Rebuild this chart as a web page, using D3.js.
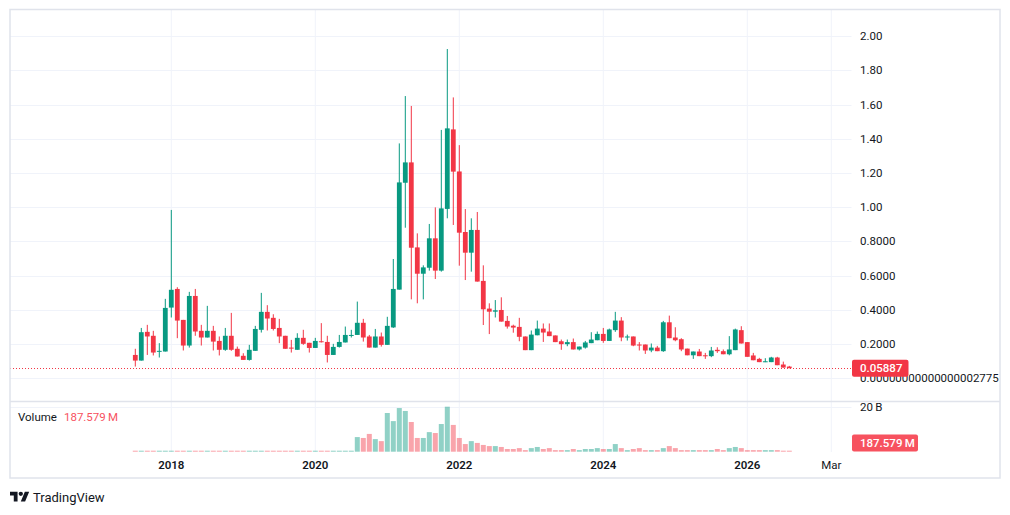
<!DOCTYPE html>
<html>
<head>
<meta charset="utf-8">
<script src="https://cdn.jsdelivr.net/npm/d3@7"></script>
<style>
        body { margin: 0; background: #ffffff; }
        text { font-family: Roboto, "Noto Sans", sans-serif; }
</style>
</head>
<body>
<svg id="chart" width="1010" height="515"></svg>
<script>
// monthly candles, first bar Jul 2017
var firstMonth = new Date(Date.UTC(2017, 6, 1));

var open = [0.136, 0.103, 0.271, 0.248, 0.156, 0.156, 0.413, 0.522, 0.341, 0.191,
        0.481, 0.277, 0.238, 0.277, 0.218, 0.166, 0.248, 0.172, 0.131, 0.107,
        0.160, 0.283, 0.388, 0.353, 0.294, 0.248, 0.179, 0.166, 0.236, 0.207,
        0.177, 0.216, 0.212, 0.136, 0.183, 0.209, 0.248, 0.253, 0.324, 0.244,
        0.179, 0.244, 0.195, 0.297, 0.518, 1.143, 1.262, 0.765, 0.611, 0.646,
        0.818, 0.629, 0.990, 1.455, 1.209, 0.855, 0.734, 0.867, 0.569, 0.407,
        0.389, 0.399, 0.335, 0.307, 0.300, 0.244, 0.164, 0.251, 0.290, 0.273,
        0.250, 0.216, 0.199, 0.211, 0.168, 0.179, 0.205, 0.222, 0.259, 0.218,
        0.281, 0.337, 0.238, 0.244, 0.197, 0.197, 0.162, 0.179, 0.158, 0.327,
        0.238, 0.228, 0.173, 0.134, 0.156, 0.134, 0.129, 0.166, 0.158, 0.140,
        0.164, 0.281, 0.211, 0.133, 0.113, 0.094, 0.094, 0.121, 0.080, 0.068];

var high = [0.172, 0.294, 0.312, 0.277, 0.205, 0.464, 0.984, 0.532, 0.341, 0.505,
        0.522, 0.312, 0.423, 0.306, 0.244, 0.294, 0.382, 0.185, 0.146, 0.195,
        0.306, 0.499, 0.427, 0.374, 0.347, 0.248, 0.224, 0.263, 0.283, 0.207,
        0.236, 0.322, 0.248, 0.201, 0.253, 0.302, 0.283, 0.448, 0.347, 0.253,
        0.288, 0.267, 0.359, 0.697, 1.373, 1.650, 1.592, 0.847, 0.660, 0.902,
        0.999, 1.452, 1.925, 1.642, 1.363, 0.989, 0.935, 0.972, 0.660, 0.438,
        0.457, 0.473, 0.364, 0.313, 0.353, 0.244, 0.279, 0.337, 0.320, 0.320,
        0.250, 0.226, 0.226, 0.232, 0.185, 0.218, 0.269, 0.273, 0.294, 0.290,
        0.388, 0.357, 0.255, 0.244, 0.211, 0.197, 0.203, 0.189, 0.335, 0.366,
        0.298, 0.234, 0.173, 0.156, 0.171, 0.148, 0.183, 0.181, 0.168, 0.246,
        0.290, 0.304, 0.211, 0.148, 0.119, 0.117, 0.125, 0.125, 0.097, 0.072];

var low = [0.068, 0.103, 0.136, 0.133, 0.121, 0.156, 0.355, 0.234, 0.162, 0.179,
        0.248, 0.191, 0.238, 0.162, 0.133, 0.160, 0.160, 0.127, 0.107, 0.103,
        0.160, 0.267, 0.279, 0.279, 0.205, 0.172, 0.150, 0.166, 0.195, 0.150,
        0.177, 0.209, 0.092, 0.136, 0.179, 0.209, 0.238, 0.253, 0.214, 0.179,
        0.179, 0.185, 0.195, 0.294, 0.518, 0.880, 0.461, 0.438, 0.461, 0.629,
        0.580, 0.623, 0.935, 0.896, 0.658, 0.574, 0.623, 0.565, 0.311, 0.258,
        0.355, 0.331, 0.290, 0.266, 0.216, 0.164, 0.164, 0.251, 0.212, 0.246,
        0.211, 0.166, 0.187, 0.168, 0.162, 0.173, 0.205, 0.222, 0.207, 0.218,
        0.271, 0.216, 0.220, 0.187, 0.162, 0.142, 0.152, 0.158, 0.154, 0.234,
        0.216, 0.158, 0.134, 0.113, 0.129, 0.113, 0.123, 0.148, 0.140, 0.134,
        0.164, 0.203, 0.125, 0.105, 0.094, 0.094, 0.094, 0.076, 0.062, 0.058];

var close = [0.103, 0.269, 0.244, 0.150, 0.160, 0.411, 0.517, 0.337, 0.191, 0.481,
        0.273, 0.238, 0.277, 0.214, 0.166, 0.248, 0.166, 0.127, 0.107, 0.166,
        0.288, 0.388, 0.349, 0.288, 0.244, 0.172, 0.173, 0.236, 0.201, 0.177,
        0.218, 0.211, 0.136, 0.183, 0.212, 0.253, 0.253, 0.324, 0.238, 0.179,
        0.244, 0.195, 0.306, 0.522, 1.145, 1.262, 0.763, 0.611, 0.648, 0.818,
        0.629, 0.993, 1.461, 1.208, 0.851, 0.734, 0.867, 0.565, 0.403, 0.389,
        0.397, 0.331, 0.302, 0.296, 0.242, 0.164, 0.255, 0.290, 0.267, 0.246,
        0.211, 0.199, 0.211, 0.168, 0.185, 0.209, 0.226, 0.259, 0.218, 0.285,
        0.337, 0.238, 0.244, 0.191, 0.191, 0.162, 0.179, 0.158, 0.327, 0.234,
        0.222, 0.168, 0.134, 0.156, 0.129, 0.129, 0.162, 0.158, 0.140, 0.168,
        0.285, 0.203, 0.125, 0.105, 0.094, 0.099, 0.121, 0.076, 0.062, 0.05887];

// volume in billions
var volume = [0.3, 0.3, 0.3, 0.3, 0.3, 0.3, 0.3, 0.3, 0.3, 0.3,
        0.3, 0.3, 0.3, 0.3, 0.3, 0.3, 0.3, 0.3, 0.3, 0.3,
        0.3, 0.3, 0.3, 0.3, 0.3, 0.3, 0.3, 0.3, 0.3, 0.3,
        0.3, 0.3, 0.3, 0.3, 0.3, 0.3, 0.4, 6.5, 6.1, 7.9,
        5.6, 4.7, 17.2, 13.6, 19.4, 18.1, 13.2, 6.1, 6.1, 8.7,
        8.3, 12.3, 20.0, 11.9, 6.1, 3.4, 4.7, 3.9, 3.0, 2.5,
        2.5, 2.1, 1.2, 1.2, 1.6, 0.7, 1.6, 2.1, 1.2, 1.6,
        0.7, 0.7, 0.7, 1.2, 0.7, 1.2, 1.2, 1.6, 1.2, 1.2,
        3.4, 1.6, 0.7, 1.2, 1.6, 0.7, 0.7, 0.7, 1.6, 2.5,
        1.6, 0.7, 0.7, 0.7, 0.7, 0.7, 0.7, 1.2, 0.7, 1.6,
        2.1, 1.6, 0.7, 0.7, 0.7, 0.7, 0.7, 0.7, 0.3, 0.188];

var timeTicks = ["2018-01", "2020-01", "2022-01", "2024-01", "2026-01", "2027-03"];
var timeTickLabels = ["2018", "2020", "2022", "2024", "2026", "Mar"];

var priceTicks = [0, 0.2, 0.4, 0.6, 0.8, 1.0, 1.2, 1.4, 1.6, 1.8, 2.0];
var priceTickLabels = ["0.00000000000000002775", "0.2000", "0.4000", "0.6000", "0.8000",
        "1.00", "1.20", "1.40", "1.60", "1.80", "2.00"];

var volumeTicks = [20];
var volumeTickLabels = ["20\u2009B"];

var lastPriceLabel = "0.05887";
var lastVolumeLabel = "187.579\u2009M";

// colours
var colour = {
        up: "#089981",
        down: "#f23645",
        text: "#131722",
        grid: "#f0f3fa",
        border: "#e0e3eb"
};

// layout
var frame = { left: 10, top: 9.5, right: 1000, bottom: 478 };
var paneRight = 851.5;
var priceBottom = 401;
var volTop = 401, volBottom = 452;

var svg = d3.select("#chart");
svg.append("rect").attr("width", 1010).attr("height", 515).attr("fill", "#ffffff");

// scales
var monthIndex = function(s) {
        var p = s.split("-");
        return d3.utcMonth.count(firstMonth, new Date(Date.UTC(+p[0], +p[1] - 1, 1)));
};
var x = d3.scaleLinear().domain([0, 116]).range([135.3, 831.3]);
var y = d3.scaleLinear().domain([0, 2]).range([378.2, 36.2]);
var yv = d3.scaleLinear().domain([0, 20]).range([451.7, 406.7]);
var step = x(1) - x(0);
var bodyW = step * 0.8;

// grid
var grid = svg.append("g");
grid.selectAll(".vg").data(timeTicks).enter().append("line")
        .attr("x1", function(d) { return x(monthIndex(d)); })
        .attr("x2", function(d) { return x(monthIndex(d)); })
        .attr("y1", frame.top).attr("y2", volBottom)
        .attr("stroke", colour.grid).attr("stroke-width", 1);
grid.selectAll(".hg").data(priceTicks).enter().append("line")
        .attr("x1", frame.left).attr("x2", paneRight)
        .attr("y1", function(d) { return Math.round(y(d)) + 0.5; })
        .attr("y2", function(d) { return Math.round(y(d)) + 0.5; })
        .attr("stroke", colour.grid).attr("stroke-width", 1);
grid.selectAll(".vh").data(volumeTicks).enter().append("line")
        .attr("x1", frame.left).attr("x2", paneRight)
        .attr("y1", function(d) { return Math.round(yv(d)) + 0.5; })
        .attr("y2", function(d) { return Math.round(yv(d)) + 0.5; })
        .attr("stroke", colour.grid).attr("stroke-width", 1);

var idx = d3.range(close.length);
var isUp = function(i) { return close[i] >= open[i]; };

// volume bars
svg.append("g").selectAll("rect").data(idx).enter().append("rect")
        .attr("x", function(i) { return x(i) - step / 2 + 0.5; })
        .attr("width", step - 1)
        .attr("y", function(i) { return Math.min(yv(volume[i]), yv(0) - 1); })
        .attr("height", function(i) { return Math.max(yv(0) - yv(volume[i]), 1); })
        .attr("fill", function(i) { return isUp(i) ? colour.up : colour.down; })
        .attr("fill-opacity", 0.45);

// last price line
svg.append("line")
        .attr("x1", frame.left).attr("x2", paneRight)
        .attr("y1", Math.round(y(close[close.length - 1])) + 0.5)
        .attr("y2", Math.round(y(close[close.length - 1])) + 0.5)
        .attr("stroke", colour.down).attr("stroke-width", 1)
        .attr("stroke-dasharray", "1,2");

// candles
var candles = svg.append("g").selectAll("g").data(idx).enter().append("g");
candles.append("line")
        .attr("x1", function(i) { return x(i); })
        .attr("x2", function(i) { return x(i); })
        .attr("y1", function(i) { return y(high[i]); })
        .attr("y2", function(i) { return y(low[i]); })
        .attr("stroke", function(i) { return isUp(i) ? colour.up : colour.down; })
        .attr("stroke-width", 1);
candles.append("rect")
        .attr("x", function(i) { return x(i) - bodyW / 2; })
        .attr("width", bodyW)
        .attr("y", function(i) { return y(Math.max(open[i], close[i])); })
        .attr("height", function(i) { return Math.max(Math.abs(y(open[i]) - y(close[i])), 1); })
        .attr("fill", function(i) { return isUp(i) ? colour.up : colour.down; });

// frame and pane separator
svg.append("rect")
        .attr("x", frame.left).attr("y", frame.top)
        .attr("width", frame.right - frame.left).attr("height", frame.bottom - frame.top)
        .attr("fill", "none").attr("stroke", colour.border).attr("stroke-width", 1.5);
svg.append("line")
        .attr("x1", frame.left).attr("x2", frame.right)
        .attr("y1", priceBottom + 0.5).attr("y2", priceBottom + 0.5)
        .attr("stroke", colour.border).attr("stroke-width", 1.5);

// price axis labels (the zero label sits just under the last price tag, as in the source)
svg.append("g").selectAll("text").data(priceTicks).enter().append("text")
        .attr("x", 860)
        .attr("y", function(d) { return y(d); })
        .attr("dy", "0.35em")
        .attr("font-size", "11.5px")
        .attr("fill", colour.text)
        .text(function(d, i) { return priceTickLabels[i]; });

svg.append("g").selectAll("text").data(volumeTicks).enter().append("text")
        .attr("x", 860)
        .attr("y", function(d) { return yv(d); })
        .attr("dy", "0.35em")
        .attr("font-size", "11.5px")
        .attr("fill", colour.text)
        .text(function(d, i) { return volumeTickLabels[i]; });

// last price tag
var lastY = y(close[close.length - 1]);
svg.append("rect")
        .attr("x", 852).attr("y", lastY - 8.5)
        .attr("width", 56.5).attr("height", 17).attr("rx", 2)
        .attr("fill", colour.down);
svg.append("text")
        .attr("x", 860).attr("y", lastY).attr("dy", "0.35em")
        .attr("font-size", "11.5px").attr("font-weight", 500)
        .attr("fill", "#ffffff")
        .text(lastPriceLabel);

// last volume tag, kept inside the pane
var lastVY = Math.min(yv(volume[volume.length - 1]), volBottom - 9);
svg.append("rect")
        .attr("x", 852).attr("y", lastVY - 8.5)
        .attr("width", 66).attr("height", 17).attr("rx", 2)
        .attr("fill", "#f7525f");
svg.append("text")
        .attr("x", 860).attr("y", lastVY).attr("dy", "0.35em")
        .attr("font-size", "11.5px").attr("font-weight", 500)
        .attr("fill", "#ffffff")
        .text(lastVolumeLabel);

// time axis labels
svg.append("g").selectAll("text").data(timeTicks).enter().append("text")
        .attr("x", function(d) { return x(monthIndex(d)); })
        .attr("y", 465)
        .attr("dy", "0.35em")
        .attr("text-anchor", "middle")
        .attr("font-size", "11.5px")
        .attr("font-weight", function(d, i) { return /^\d+$/.test(timeTickLabels[i]) ? 600 : 400; })
        .attr("fill", colour.text)
        .text(function(d, i) { return timeTickLabels[i]; });

// volume legend
var legend = svg.append("text")
        .attr("x", 18).attr("y", 417).attr("dy", "0.35em")
        .attr("font-size", "11.5px");
legend.append("tspan").attr("fill", colour.text).text("Volume");
legend.append("tspan").attr("dx", 7).attr("fill", "#f7525f").text(lastVolumeLabel);

// TradingView mark
var logo = svg.append("g").attr("transform", "translate(10,489.5) scale(0.54)").attr("fill", colour.text);
logo.append("path").attr("d", "M14 22H7V11H0V4h14v18zM28 22h-8l7.5-18h8L28 22z");
logo.append("circle").attr("cx", 20).attr("cy", 8).attr("r", 4);
svg.append("text")
        .attr("x", 33).attr("y", 497).attr("dy", "0.35em")
        .attr("font-size", "13px")
        .attr("fill", colour.text)
        .text("TradingView");
</script>
</body>
</html>
